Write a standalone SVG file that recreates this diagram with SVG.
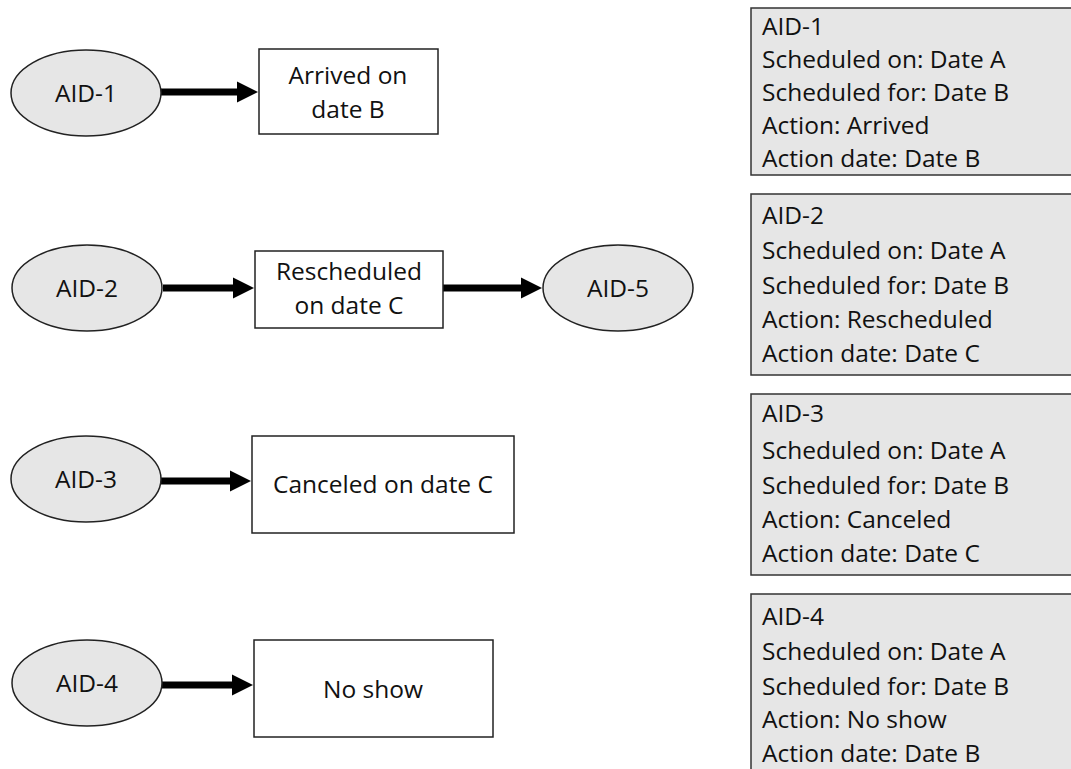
<svg xmlns="http://www.w3.org/2000/svg" width="1071" height="769" viewBox="0 0 1071 769">
<defs>
<style>
.ell{fill:#e6e6e6;stroke:#222;stroke-width:1.5}
.box{fill:#fff;stroke:#222;stroke-width:1.5}
.panel{fill:#e6e6e6;stroke:#333;stroke-width:1.5}
text{font-family:"Open Sans","Liberation Sans",sans-serif;font-size:24.5px;fill:#111}
.c{text-anchor:middle}
.conn{stroke:#000;stroke-width:7;fill:none}
</style>
<marker id="ah" markerUnits="userSpaceOnUse" markerWidth="22" markerHeight="22" refX="1" refY="10.5" orient="auto" overflow="visible">
<path d="M0,0 L21,10.5 L0,21 z" fill="#000"/>
</marker>
</defs>
<rect width="1071" height="769" fill="#fff"/>

<g id="connectors">
<line class="conn" x1="161" y1="92" x2="238" y2="92" marker-end="url(#ah)"/>
<line class="conn" x1="163" y1="288" x2="234" y2="288" marker-end="url(#ah)"/>
<line class="conn" x1="443" y1="288" x2="522" y2="288" marker-end="url(#ah)"/>
<line class="conn" x1="161" y1="481" x2="231" y2="481" marker-end="url(#ah)"/>
<line class="conn" x1="162" y1="685" x2="233" y2="685" marker-end="url(#ah)"/>
</g>

<g id="aid1"><ellipse class="ell" cx="86" cy="93" rx="75" ry="43"/><text class="c" x="86" y="102">AID-1</text></g>
<g id="arrived"><rect class="box" x="259" y="49" width="179" height="85"/><text class="c" x="348" y="84">Arrived on</text><text class="c" x="348" y="118">date B</text></g>

<g id="aid2"><ellipse class="ell" cx="87" cy="288" rx="75" ry="43"/><text class="c" x="87" y="297">AID-2</text></g>
<g id="rescheduled"><rect class="box" x="255" y="251" width="188" height="77"/><text class="c" x="349" y="280">Rescheduled</text><text class="c" x="349" y="314">on date C</text></g>
<g id="aid5"><ellipse class="ell" cx="618" cy="288" rx="75" ry="43"/><text class="c" x="618" y="297">AID-5</text></g>

<g id="aid3"><ellipse class="ell" cx="86" cy="479" rx="75" ry="43"/><text class="c" x="86" y="488">AID-3</text></g>
<g id="canceled"><rect class="box" x="252" y="436" width="262" height="97"/><text class="c" x="383" y="493">Canceled on date C</text></g>

<g id="aid4"><ellipse class="ell" cx="87" cy="683" rx="75" ry="43"/><text class="c" x="87" y="692">AID-4</text></g>
<g id="noshow"><rect class="box" x="254" y="640" width="239" height="97"/><text class="c" x="373" y="698">No show</text></g>

<g id="panel1"><rect class="panel" x="751" y="8" width="330" height="167"/>
<text x="762" y="35">AID-1</text><text x="762" y="68">Scheduled on: Date A</text><text x="762" y="101">Scheduled for: Date B</text><text x="762" y="134">Action: Arrived</text><text x="762" y="167">Action date: Date B</text></g>

<g id="panel2"><rect class="panel" x="751" y="194" width="330" height="181"/>
<text x="762" y="224">AID-2</text><text x="762" y="259">Scheduled on: Date A</text><text x="762" y="294">Scheduled for: Date B</text><text x="762" y="328">Action: Rescheduled</text><text x="762" y="362">Action date: Date C</text></g>

<g id="panel3"><rect class="panel" x="751" y="394" width="330" height="181"/>
<text x="762" y="422">AID-3</text><text x="762" y="459">Scheduled on: Date A</text><text x="762" y="494">Scheduled for: Date B</text><text x="762" y="528">Action: Canceled</text><text x="762" y="562">Action date: Date C</text></g>

<g id="panel4"><rect class="panel" x="751" y="594" width="330" height="190"/>
<text x="762" y="625">AID-4</text><text x="762" y="660">Scheduled on: Date A</text><text x="762" y="695">Scheduled for: Date B</text><text x="762" y="728">Action: No show</text><text x="762" y="762">Action date: Date B</text></g>
</svg>
